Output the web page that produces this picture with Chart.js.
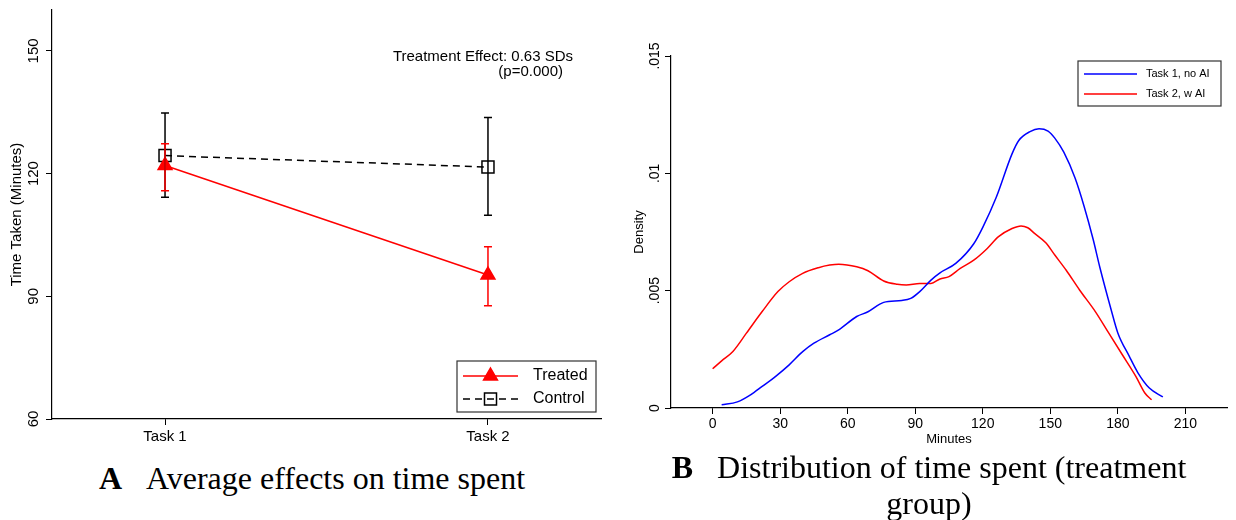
<!DOCTYPE html>
<html>
<head>
<meta charset="utf-8">
<script src="https://cdn.jsdelivr.net/npm/chart.js@4.4.1/dist/chart.umd.min.js"></script>
<style>
  body { margin: 0; background: #fff; width: 1236px; height: 520px; position: relative; overflow: hidden; }
  #left { position: absolute; left: 0; top: 0; }
  #right { position: absolute; left: 620px; top: 0; }
  .cap { position: absolute; font-family: "Liberation Serif", "Times New Roman", serif; font-size: 32px; color: #000; text-align: center; white-space: nowrap; }
</style>
</head>
<body>
<canvas id="left" width="620" height="455"></canvas>
<canvas id="right" width="616" height="455"></canvas>
<div class="cap" style="left:0; width:624px; top:459px; line-height:38px;"><b>A</b>&nbsp;&nbsp;&nbsp;Average effects on time spent</div>
<div class="cap" style="left:636px; width:586px; top:449px; line-height:36px;"><b>B</b>&nbsp;&nbsp;&nbsp;Distribution of time spent (treatment<br>group)</div>

<script>
// --- panel A: average effects ---
const tasks = [1, 2];
const taskLabels = ["Task 1", "Task 2"];
const treatedMean = [122.0, 95.2];
const treatedLow = [115.8, 87.7];
const treatedHigh = [127.3, 102.1];
const controlMean = [124.4, 121.6];
const controlLow = [114.2, 109.8];
const controlHigh = [134.8, 133.7];
const timeTicks = [60, 90, 120, 150];
const effectText = ["Treatment Effect: 0.63 SDs", "(p=0.000)"];

// --- panel B: densities ---
const minutesNoAI = [4, 11, 17, 22, 28, 34, 40, 45, 52, 56, 64, 69, 76, 84, 88, 92, 97, 101, 108, 116, 120, 126, 133, 136, 141, 145, 149, 152, 156, 161, 165, 169, 172, 177, 180, 185, 189, 194, 200];
const densityNoAI = [0.00014, 0.00026, 0.00057, 0.00092, 0.00135, 0.00184, 0.0024, 0.00276, 0.00312, 0.00333, 0.0039, 0.0041, 0.0045, 0.00458, 0.00467, 0.00496, 0.00545, 0.00576, 0.00616, 0.0070, 0.0077, 0.00898, 0.01083, 0.0114, 0.01178, 0.0119, 0.0118, 0.0115, 0.0109, 0.0098, 0.0086, 0.0072, 0.0060, 0.0042, 0.0032, 0.00222, 0.00149, 0.00085, 0.00047];
const minutesWithAI = [0, 4, 9, 15, 22, 29, 34, 40, 47, 52, 56, 64, 69, 76, 82, 86, 92, 97, 101, 105, 110, 116, 122, 127, 133, 137, 140, 143, 148, 152, 157, 163, 170, 176, 182, 188, 192, 195];
const densityWithAI = [0.00167, 0.00201, 0.00241, 0.00319, 0.00411, 0.00496, 0.00538, 0.00574, 0.00598, 0.00609, 0.00613, 0.00602, 0.00585, 0.00541, 0.00527, 0.00524, 0.00531, 0.00531, 0.0055, 0.0056, 0.00595, 0.0063, 0.0068, 0.0073, 0.00765, 0.00776, 0.00768, 0.00744, 0.00704, 0.00652, 0.00588, 0.00503, 0.00411, 0.00319, 0.00227, 0.00135, 0.00064, 0.00035];
const minuteTicks = [0, 30, 60, 90, 120, 150, 180, 210];
const densityTicks = [0, 0.005, 0.01, 0.015];
const densityLabels = ["0", ".005", ".01", ".015"];

Chart.defaults.font.family = 'Arial, "Liberation Sans", sans-serif';
Chart.defaults.color = "#000";
Chart.defaults.animation = false;

const toPoints = (xs, ys) => xs.map((x, i) => ({ x: x, y: ys[i] }));

// y tick labels turned 90 degrees, like Stata
const rotatedYLabels = {
  id: "rotatedYLabels",
  afterDraw(chart, args, opts) {
    const ctx = chart.ctx;
    const y = chart.scales.y;
    ctx.save();
    ctx.font = opts.size + "px Arial, 'Liberation Sans', sans-serif";
    ctx.fillStyle = "#000";
    ctx.textAlign = "center";
    ctx.textBaseline = "middle";
    opts.values.forEach((v, i) => {
      ctx.save();
      ctx.translate(opts.x, y.getPixelForValue(v));
      ctx.rotate(-Math.PI / 2);
      ctx.fillText(opts.labels[i], 0, 0);
      ctx.restore();
    });
    ctx.restore();
  }
};

// error bars for panel A
const errorBars = {
  id: "errorBars",
  afterDatasetsDraw(chart, args, opts) {
    const ctx = chart.ctx;
    const xs = chart.scales.x, ys = chart.scales.y;
    opts.bars.forEach(b => {
      ctx.save();
      ctx.strokeStyle = b.color;
      ctx.lineWidth = 1.5;
      tasks.forEach((t, i) => {
        const px = xs.getPixelForValue(t);
        const lo = ys.getPixelForValue(b.low[i]);
        const hi = ys.getPixelForValue(b.high[i]);
        ctx.beginPath();
        ctx.moveTo(px, lo); ctx.lineTo(px, hi);
        ctx.moveTo(px - 4, lo); ctx.lineTo(px + 4, lo);
        ctx.moveTo(px - 4, hi); ctx.lineTo(px + 4, hi);
        ctx.stroke();
      });
      ctx.restore();
    });
  }
};

const effectNote = {
  id: "effectNote",
  afterDraw(chart) {
    const ctx = chart.ctx;
    ctx.save();
    ctx.font = "15px Arial, 'Liberation Sans', sans-serif";
    ctx.fillStyle = "#000";
    ctx.textAlign = "right";
    ctx.textBaseline = "middle";
    ctx.fillText(effectText[0], 573, 57);
    ctx.fillText(effectText[1], 563, 72);
    ctx.restore();
  }
};

// legend box inside the plot
const boxLegend = {
  id: "boxLegend",
  afterDraw(chart, args, opts) {
    const ctx = chart.ctx;
    const a = chart.chartArea;
    const x0 = opts.corner === "bottom" ? a.right - 5 - opts.w : a.right - 6 - opts.w;
    const y0 = opts.corner === "bottom" ? a.bottom - 7 - opts.h : a.top + 5;
    ctx.save();
    ctx.fillStyle = "#fff";
    ctx.fillRect(x0, y0, opts.w, opts.h);
    ctx.strokeStyle = "#333";
    ctx.lineWidth = 1.2;
    ctx.strokeRect(x0, y0, opts.w, opts.h);
    chart.data.datasets.forEach((ds, i) => {
      const yy = y0 + opts.rowTop + i * opts.rowGap;
      ctx.strokeStyle = ds.borderColor;
      ctx.lineWidth = 1.5;
      ctx.setLineDash(ds.borderDash || []);
      ctx.beginPath();
      ctx.moveTo(x0 + 6, yy);
      ctx.lineTo(x0 + 6 + opts.lineLen, yy);
      ctx.stroke();
      ctx.setLineDash([]);
      if (ds.pointRadius > 0) {
        ctx.fillStyle = ds.pointBackgroundColor;
        ctx.strokeStyle = ds.pointBorderColor;
        ctx.lineWidth = ds.pointBorderWidth || 1.5;
        Chart.helpers.drawPoint(ctx, {
          pointStyle: ds.pointStyle, radius: ds.pointRadius, borderWidth: ds.pointBorderWidth || 1.5,
          rotation: 0
        }, x0 + 6 + opts.lineLen / 2, yy);
      }
      ctx.fillStyle = "#000";
      ctx.font = opts.size + "px Arial, 'Liberation Sans', sans-serif";
      ctx.textAlign = "left";
      ctx.textBaseline = "middle";
      ctx.fillText(ds.label, x0 + opts.textX, yy);
    });
    ctx.restore();
  }
};

new Chart(document.getElementById("left"), {
  type: "line",
  data: {
    datasets: [
      {
        label: "Treated",
        data: toPoints(tasks, treatedMean),
        borderColor: "#ff0000",
        backgroundColor: "#ff0000",
        borderWidth: 1.5,
        pointStyle: "triangle",
        pointRadius: 8,
        pointBackgroundColor: "#ff0000",
        pointBorderColor: "#ff0000"
      },
      {
        label: "Control",
        data: toPoints(tasks, controlMean),
        borderColor: "#000",
        borderWidth: 1.5,
        borderDash: [7, 5],
        pointStyle: "rect",
        pointRadius: 8.5,
        pointBorderWidth: 1.5,
        pointBackgroundColor: "rgba(0,0,0,0)",
        pointBorderColor: "#000"
      }
    ]
  },
  options: {
    responsive: false,
    layout: { padding: { left: 0, top: 6, right: 19, bottom: 0 } },
    plugins: {
      legend: { display: false },
      tooltip: { enabled: false },
      rotatedYLabels: { values: timeTicks, labels: timeTicks.map(String), x: 34, size: 15 },
      errorBars: { bars: [
        { low: controlLow, high: controlHigh, color: "#000" },
        { low: treatedLow, high: treatedHigh, color: "#ff0000" }
      ] },
      boxLegend: { corner: "bottom", w: 139, h: 51, rowTop: 15, rowGap: 23, lineLen: 55, textX: 76, size: 16 }
    },
    scales: {
      x: {
        type: "linear",
        min: 0.65,
        max: 2.35,
        afterBuildTicks: s => { s.ticks = tasks.map(v => ({ value: v })); },
        afterFit: s => { s.height = 36; },
        ticks: { font: { size: 15 }, padding: 3, callback: v => taskLabels[tasks.indexOf(v)] },
        grid: { drawOnChartArea: false, drawTicks: true, tickLength: 6, color: "#000" },
        border: { color: "#000", width: 1.2 }
      },
      y: {
        min: 60,
        max: 160,
        afterBuildTicks: s => { s.ticks = timeTicks.map(v => ({ value: v })); },
        afterFit: s => { s.width = 52; },
        ticks: { display: false },
        title: { display: true, text: "Time Taken (Minutes)", font: { size: 15 }, padding: { top: 8, bottom: 0 } },
        grid: { drawOnChartArea: false, drawTicks: true, tickLength: 6, color: "#000" },
        border: { color: "#000", width: 1.2 }
      }
    }
  },
  plugins: [errorBars, rotatedYLabels, effectNote, boxLegend]
});

new Chart(document.getElementById("right"), {
  type: "line",
  data: {
    datasets: [
      {
        label: "Task 1, no AI",
        data: toPoints(minutesNoAI, densityNoAI),
        borderColor: "#0000ff",
        borderWidth: 1.5,
        pointRadius: 0,
        cubicInterpolationMode: "monotone"
      },
      {
        label: "Task 2, w AI",
        data: toPoints(minutesWithAI, densityWithAI),
        borderColor: "#ff0000",
        borderWidth: 1.5,
        pointRadius: 0,
        cubicInterpolationMode: "monotone"
      }
    ]
  },
  options: {
    responsive: false,
    layout: { padding: { left: 0, top: 56, right: 9, bottom: 0 } },
    plugins: {
      legend: { display: false },
      tooltip: { enabled: false },
      rotatedYLabels: { values: densityTicks, labels: densityLabels, x: 35, size: 14 },
      boxLegend: { corner: "top", w: 143, h: 45, rowTop: 13, rowGap: 20, lineLen: 53, textX: 68, size: 11 }
    },
    scales: {
      x: {
        type: "linear",
        min: -18.5,
        max: 228.5,
        afterBuildTicks: s => { s.ticks = minuteTicks.map(v => ({ value: v })); },
        afterFit: s => { s.height = 47; },
        ticks: { font: { size: 14 }, padding: 2 },
        title: { display: true, text: "Minutes", font: { size: 13 }, padding: { top: 0, bottom: 8 } },
        grid: { drawOnChartArea: false, drawTicks: true, tickLength: 6, color: "#000" },
        border: { color: "#000", width: 1.2 }
      },
      y: {
        min: 0,
        max: 0.015,
        afterBuildTicks: s => { s.ticks = densityTicks.map(v => ({ value: v })); },
        afterFit: s => { s.width = 51; },
        ticks: { display: false },
        title: { display: true, text: "Density", font: { size: 13 }, padding: { top: 12, bottom: 0 } },
        grid: { drawOnChartArea: false, drawTicks: true, tickLength: 6, color: "#000" },
        border: { color: "#000", width: 1.2 }
      }
    }
  },
  plugins: [rotatedYLabels, boxLegend]
});
</script>
</body>
</html>
